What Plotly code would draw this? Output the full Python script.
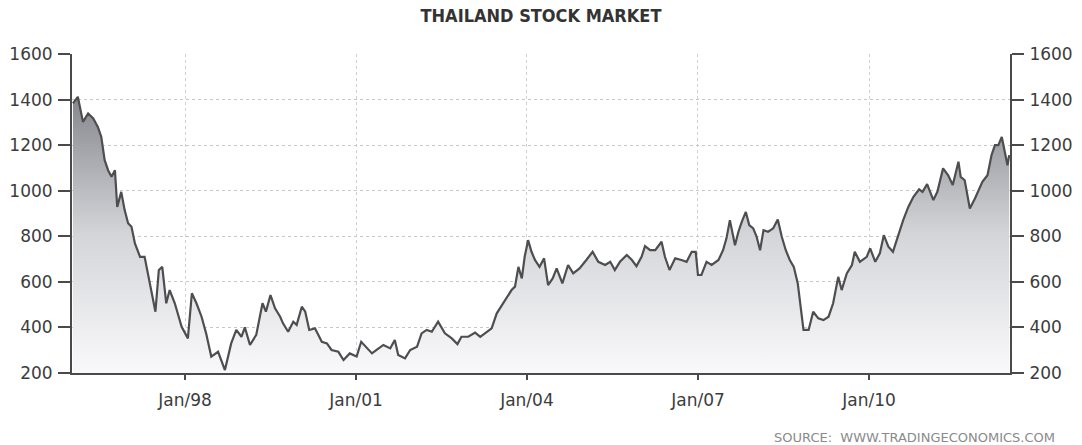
import pandas as pd
import plotly.graph_objects as go

# decimal years and index values
years = [1996.035, 1996.12, 1996.21, 1996.30, 1996.39, 1996.47, 1996.53, 1996.59, 1996.65, 1996.71,
         1996.77, 1996.81, 1996.88, 1996.94, 1997.00, 1997.06, 1997.12, 1997.21, 1997.29, 1997.38,
         1997.48, 1997.54, 1997.60, 1997.67, 1997.73, 1997.82, 1997.94, 1998.05, 1998.12, 1998.20,
         1998.29, 1998.37, 1998.46, 1998.58, 1998.70, 1998.81, 1998.90, 1998.99, 1999.05, 1999.14,
         1999.25, 1999.36, 1999.42, 1999.50, 1999.58, 1999.67, 1999.72, 1999.81, 1999.90, 1999.96,
         2000.05, 2000.11, 2000.18, 2000.28, 2000.40, 2000.49, 2000.57, 2000.69, 2000.78, 2000.89,
         2001.01, 2001.09, 2001.19, 2001.28, 2001.36, 2001.48, 2001.60, 2001.68, 2001.74, 2001.86,
         2001.95, 2002.07, 2002.15, 2002.24, 2002.33, 2002.44, 2002.56, 2002.68, 2002.78, 2002.85,
         2002.97, 2003.09, 2003.18, 2003.29, 2003.38, 2003.47, 2003.54, 2003.64, 2003.73, 2003.79,
         2003.85, 2003.91, 2003.96, 2004.02, 2004.08, 2004.14, 2004.22, 2004.30, 2004.37, 2004.45,
         2004.52, 2004.62, 2004.72, 2004.81, 2004.92, 2005.04, 2005.15, 2005.25, 2005.37, 2005.46,
         2005.54, 2005.63, 2005.75, 2005.84, 2005.92, 2006.01, 2006.07, 2006.16, 2006.25, 2006.36,
         2006.42, 2006.50, 2006.60, 2006.71, 2006.80, 2006.89, 2006.96, 2007.00, 2007.06, 2007.15,
         2007.24, 2007.36, 2007.44, 2007.50, 2007.56, 2007.65, 2007.71, 2007.77, 2007.84, 2007.90,
         2007.97, 2008.03, 2008.09, 2008.15, 2008.23, 2008.32, 2008.40, 2008.47, 2008.54, 2008.61,
         2008.68, 2008.75, 2008.80, 2008.85, 2008.94, 2009.02, 2009.11, 2009.20, 2009.29, 2009.37,
         2009.46, 2009.52, 2009.61, 2009.70, 2009.75, 2009.84, 2009.96, 2010.02, 2010.11, 2010.19,
         2010.26, 2010.34, 2010.42, 2010.50, 2010.60, 2010.69, 2010.78, 2010.88, 2010.94, 2011.02,
         2011.13, 2011.20, 2011.30, 2011.39, 2011.47, 2011.57, 2011.61, 2011.68, 2011.77, 2011.86,
         2011.92, 2011.99, 2012.08, 2012.15, 2012.21, 2012.27, 2012.33, 2012.39, 2012.43, 2012.46]

values = [1383, 1412, 1302, 1339, 1317, 1280, 1237, 1134, 1090, 1061,
          1090, 929, 995, 915, 857, 842, 769, 710, 710, 593,
          469, 652, 666, 506, 564, 506, 403, 352, 550, 506,
          447, 374, 272, 293, 213, 330, 389, 359, 400, 323,
          367, 506, 469, 542, 484, 447, 418, 381, 425, 411,
          491, 469, 389, 396, 337, 330, 301, 293, 257, 286,
          272, 337, 308, 286, 301, 323, 308, 345, 279, 264,
          301, 315, 374, 389, 381, 425, 374, 352, 327, 359,
          359, 377, 359, 381, 396, 462, 488, 528, 564, 579,
          666, 615, 710, 783, 732, 696, 666, 703, 586, 615,
          659, 593, 674, 637, 659, 696, 732, 688, 674, 688,
          652, 688, 718, 696, 669, 710, 757, 739, 739, 776,
          710, 652, 703, 696, 688, 732, 732, 630, 630, 688,
          674, 696, 739, 791, 871, 761, 820, 864, 907, 849,
          835, 798, 739, 827, 820, 835, 874, 798, 739, 696,
          666, 593, 491, 389, 389, 469, 440, 432, 447, 506,
          622, 564, 637, 674, 732, 688, 710, 747, 688, 725,
          805, 754, 732, 798, 871, 929, 973, 1006, 995, 1029,
          959, 995, 1098, 1068, 1025, 1127, 1061, 1046, 922, 966,
          1003, 1039, 1068, 1156, 1200, 1200, 1236, 1164, 1112, 1156]

tick_years = [1998, 2001, 2004, 2007, 2010]
tick_labels = ["Jan/98", "Jan/01", "Jan/04", "Jan/07", "Jan/10"]
y_ticks = [200, 400, 600, 800, 1000, 1200, 1400, 1600]


def to_date(y):
    yr = int(y)
    start = pd.Timestamp(year=yr, month=1, day=1)
    end = pd.Timestamp(year=yr + 1, month=1, day=1)
    return start + (end - start) * (y - yr)


dates = [to_date(y) for y in years]
tick_dates = [pd.Timestamp(year=y, month=1, day=1) for y in tick_years]

fig = go.Figure()
fig.add_trace(go.Scatter(
    x=dates, y=values, mode="lines",
    line=dict(color="#4e4e50", width=2.2),
    fill="tozeroy",
    fillgradient=dict(type="vertical", start=200, stop=1420,
                      colorscale=[[0, "#f9f9fb"], [0.5, "#d4d5d9"], [1, "#85868b"]]),
    showlegend=False, hoverinfo="skip",
))
# invisible trace to carry the right-hand axis
fig.add_trace(go.Scatter(x=[dates[0]], y=[200], yaxis="y2", mode="markers",
                         marker=dict(opacity=0), showlegend=False, hoverinfo="skip"))

tickfont = dict(family="DejaVu Sans", size=17, color="#3c3c3c")
axis_common = dict(showline=True, linecolor="#4a4a4a", linewidth=2, ticks="outside",
                   tickcolor="#4a4a4a", tickwidth=2, tickfont=tickfont, zeroline=False,
                   automargin=False)
fig.update_layout(
    width=1082, height=445,
    margin=dict(l=72, r=72, t=54, b=72),
    paper_bgcolor="white", plot_bgcolor="white",
    title=dict(text="<b>THAILAND STOCK MARKET</b>", x=0.5, xanchor="center",
               y=1 - 16 / 445, yanchor="middle", yref="container",
               font=dict(family="DejaVu Sans Condensed", size=18, color="#333333")),
    xaxis=dict(type="date", range=[to_date(1996.018), to_date(2012.474)],
               tickvals=tick_dates, ticktext=tick_labels,
               showgrid=True, gridcolor="#d0d0d0", griddash="dot", gridwidth=1,
               ticklen=5, ticklabelstandoff=6, **axis_common),
    yaxis=dict(range=[200, 1600], tickvals=y_ticks,
               showgrid=True, gridcolor="#c8c8c8", griddash="dot", gridwidth=1,
               ticklen=12, ticklabelstandoff=2, **axis_common),
    yaxis2=dict(range=[200, 1600], tickvals=y_ticks, overlaying="y", side="right",
                showgrid=False, ticklen=12, ticklabelstandoff=2, **axis_common),
    annotations=[dict(text="SOURCE:  WWW.TRADINGECONOMICS.COM", xref="paper", yref="paper",
                      x=(1057 - 72) / 938, y=-(437 - 373) / 319, xanchor="right", yanchor="middle",
                      showarrow=False,
                      font=dict(family="DejaVu Sans", size=13, color="#8a8a8a"))],
)

fig.write_html("out.html", config={"displayModeBar": False},
               post_script="document.body.style.margin='0px';")
